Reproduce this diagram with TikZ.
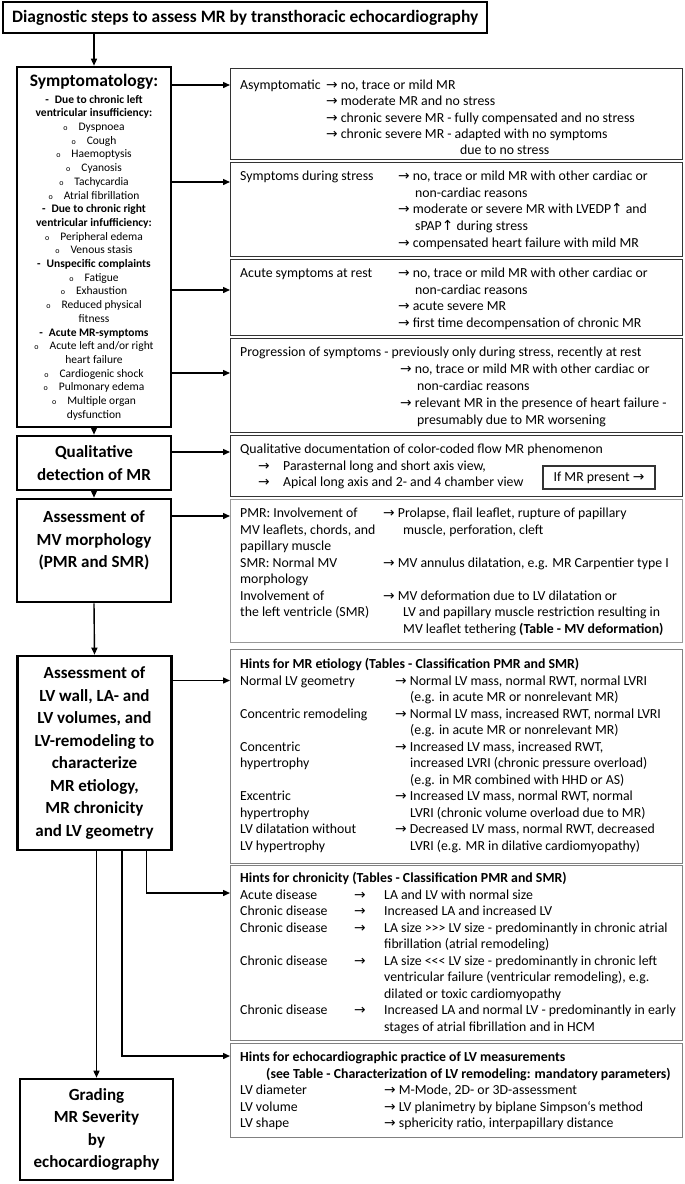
\documentclass[tikz,border=0pt]{standalone}
\usepackage{fontspec}
\setmainfont{Carlito}
\newfontfamily\arrowfont{DejaVu Sans}
\usepackage{tikz}
\usetikzlibrary{arrows.meta}
\newcommand\ra{{\arrowfont\char"2192}}
\newcommand\up{{\arrowfont\char"2191}}
\newcommand\bul{{\fontsize{8}{8}\selectfont o}\hspace{11pt}}
\newcommand\gt{>\kern0pt>\kern0pt>}
\newcommand\lt{<\kern0pt<\kern0pt<}

\begin{document}
\begin{tikzpicture}[x=1pt, y=-1pt,
	tbox/.style={rectangle, draw, line width=2.4pt, minimum height=31pt, inner xsep=9pt,
		font=\fontsize{17.4}{20}\selectfont\bfseries},
	lbox/.style={rectangle, draw, line width=2.6pt, align=center, inner sep=0pt,
		minimum width=154pt, font=\fontsize{17}{22.5}\selectfont\bfseries},
	rbox/.style={rectangle, draw=black!80, line width=1.2pt, anchor=north west,
		inner sep=0pt, minimum width=452pt},
	gbox/.style={rbox, draw=black!50},
	txt/.style={anchor=base west, inner sep=0pt, font=\fontsize{13.8}{16.5}\selectfont},
	btxt/.style={txt, font=\fontsize{13.8}{16.5}\selectfont\bfseries},
	arr/.style={-{Triangle[length=7pt,width=6pt]}, line width=1.4pt}]
	\useasboundingbox (0,0) rectangle (685,1184);

	% left column
	\node[tbox, anchor=west] (title) at (2,17.5) {Diagnostic steps to assess MR by transthoracic echocardiography};
	\node[lbox, minimum height=360pt, font=\fontsize{11.5}{13.7}\selectfont] (symp) at (94,247) {{\fontsize{17.5}{20}\selectfont\bfseries Symptomatology:}\\[3.3pt]
		\textbf{-\hspace{6pt}Due to chronic left}\\
		\textbf{ventricular insufficiency:}\\
		\bul Dyspnoea\\
		\bul Cough\\
		\bul Haemoptysis\\
		\bul Cyanosis\\
		\bul Tachycardia\\
		\bul Atrial fibrillation\\
		\textbf{-\hspace{6pt}Due to chronic right}\\
		\textbf{ventricular infufficiency:}\\
		\bul Peripheral edema\\
		\bul Venous stasis\\
		\textbf{-\hspace{6pt}Unspecific complaints}\\
		\bul Fatigue\\
		\bul Exhaustion\\
		\bul Reduced physical\\
		fitness\\
		\textbf{-\hspace{6pt}Acute MR-symptoms}\\
		\bul Acute left and/or right\\
		heart failure\\
		\bul Cardiogenic shock\\
		\bul Pulmonary edema\\
		\bul Multiple organ\\
		dysfunction};
	\node[lbox, minimum height=54pt] (qual) at (94,463) {Qualitative\\detection of MR};
	\node[lbox, minimum height=103pt] (mvm) at (94,550.5) {Assessment of\\MV morphology\\(PMR and SMR)\\\mbox{}};
	\node[lbox, minimum height=194pt] (lvg) at (94.5,753) {Assessment of\\LV wall, LA- and\\LV volumes, and\\LV-remodeling to\\characterize\\MR etiology,\\MR chronicity\\and LV geometry};
	\node[lbox, minimum width=153pt, minimum height=101pt] (grad) at (96.5,1129.5) {Grading\\MR Severity\\by\\echocardiography};

	% right column: boxes
	\node[rbox, minimum height=91pt] (asym) at (230,68) {};
	\node[rbox, minimum height=94pt] (stress) at (230,162) {};
	\node[rbox, minimum height=76pt] (rest) at (230,259) {};
	\node[rbox, minimum height=94pt] (prog) at (230,338) {};
	\node[rbox, minimum height=61pt] (qdoc) at (230,435) {};
	\node[gbox, draw=black!40, minimum height=143pt] (morph) at (230,499) {};
	\node[gbox, minimum height=214pt] (etio) at (230,649) {};
	\node[gbox, minimum height=175pt] (chron) at (230,865) {};
	\node[gbox, minimum height=94pt] (pract) at (230,1043) {};

	% asymptomatic
	\node[txt] (asymL) at (240,89.5) {Asymptomatic};
	\node[txt] (asymR1) at (326,89.5) {\ra{} no, trace or mild MR};
	\node[txt] (asymR2) at (326,105.8) {\ra{} moderate MR and no stress};
	\node[txt] (asymR3) at (326,122.2) {\ra{} chronic severe MR - fully compensated and no stress};
	\node[txt] (asymR4) at (326,138.5) {\ra{} chronic severe MR - adapted with no symptoms};
	\node[txt] (asymR5) at (460,154.8) {due to no stress};
	% stress
	\node[txt] (stressL) at (240,180.5) {Symptoms during stress};
	\node[txt] (stressR1) at (398,180.5) {\ra{} no, trace or mild MR with other cardiac or};
	\node[txt] (stressR2) at (415,197.2) {non-cardiac reasons};
	\node[txt] (stressR3) at (398,213.8) {\ra{} moderate or severe MR with LVEDP\up{} and};
	\node[txt] (stressR4) at (415,230.5) {sPAP\up{} during stress};
	\node[txt] (stressR5) at (398,247.2) {\ra{} compensated heart failure with mild MR};
	% rest
	\node[txt] (restL) at (240,277.5) {Acute symptoms at rest};
	\node[txt] (restR1) at (398,277.5) {\ra{} no, trace or mild MR with other cardiac or};
	\node[txt] (restR2) at (415,294) {non-cardiac reasons};
	\node[txt] (restR3) at (398,310.5) {\ra{} acute severe MR};
	\node[txt] (restR4) at (398,327) {\ra{} first time decompensation of chronic MR};
	% progression
	\node[txt] (progL) at (240,356.5) {Progression of symptoms - previously only during stress, recently at rest};
	\node[txt] (progR1) at (400,373.5) {\ra{} no, trace or mild MR with other cardiac or};
	\node[txt] (progR2) at (417,390.5) {non-cardiac reasons};
	\node[txt] (progR3) at (400,407.5) {\ra{} relevant MR in the presence of heart failure -};
	\node[txt] (progR4) at (417,424.5) {presumably due to MR worsening};
	% qualitative documentation
	\node[txt] (qdocL) at (240,453.5) {Qualitative documentation of color-coded flow MR phenomenon};
	\node[txt] (qdocA1) at (258,470.5) {\ra};
	\node[txt] (qdocR1) at (283,470.5) {Parasternal long and short axis view,};
	\node[txt] (qdocA2) at (258,486.5) {\ra};
	\node[txt] (qdocR2) at (283,486.5) {Apical long axis and 2- and 4 chamber view};
	\node[rectangle, draw=black!80, line width=1.2pt, minimum width=112pt, minimum height=23pt,
		inner sep=0pt, font=\fontsize{13.8}{16.5}\selectfont] (present) at (599,477.5) {If MR present \ra};
	% morphology
	\node[txt] (morphL1) at (240,517.5) {PMR: Involvement of};
	\node[txt] (morphR1) at (383,517.5) {\ra{} Prolapse, flail leaflet, rupture of papillary};
	\node[txt] (morphL2) at (240,534) {MV leaflets, chords, and};
	\node[txt] (morphR2) at (403,534) {muscle, perforation, cleft};
	\node[txt] (morphL3) at (240,550.5) {papillary muscle};
	\node[txt] (morphL4) at (240,567) {SMR: Normal MV};
	\node[txt] (morphR4) at (383,567) {\ra{} MV annulus dilatation, e.g. MR Carpentier type I};
	\node[txt] (morphL5) at (240,583.5) {morphology};
	\node[txt] (morphL6) at (240,600) {Involvement of};
	\node[txt] (morphR6) at (383,600) {\ra{} MV deformation due to LV dilatation or};
	\node[txt] (morphL7) at (240,616.5) {the left ventricle (SMR)};
	\node[txt] (morphR7) at (403,616.5) {LV and papillary muscle restriction resulting in};
	\node[txt] (morphR8) at (403,633) {MV leaflet tethering \textbf{(Table - MV deformation)}};
	% etiology
	\node[btxt] (etioH) at (240,668.5) {Hints for MR etiology (Tables - Classification PMR and SMR)};
	\node[txt] (etioL1) at (240,685) {Normal LV geometry};
	\node[txt] (etioR1) at (395,685) {\ra{} Normal LV mass, normal RWT, normal LVRI};
	\node[txt] (etioR2) at (410,701.5) {(e.g. in acute MR or nonrelevant MR)};
	\node[txt] (etioL3) at (240,718) {Concentric remodeling};
	\node[txt] (etioR3) at (395,718) {\ra{} Normal LV mass, increased RWT, normal LVRI};
	\node[txt] (etioR4) at (410,734.5) {(e.g. in acute MR or nonrelevant MR)};
	\node[txt] (etioL5) at (240,751) {Concentric};
	\node[txt] (etioR5) at (395,751) {\ra{} Increased LV mass, increased RWT,};
	\node[txt] (etioL6) at (240,767.5) {hypertrophy};
	\node[txt] (etioR6) at (410,767.5) {increased LVRI (chronic pressure overload)};
	\node[txt] (etioR7) at (410,784) {(e.g. in MR combined with HHD or AS)};
	\node[txt] (etioL8) at (240,800.5) {Excentric};
	\node[txt] (etioR8) at (395,800.5) {\ra{} Increased LV mass, normal RWT, normal};
	\node[txt] (etioL9) at (240,817) {hypertrophy};
	\node[txt] (etioR9) at (410,817) {LVRI (chronic volume overload due to MR)};
	\node[txt] (etioL10) at (240,833.5) {LV dilatation without};
	\node[txt] (etioR10) at (395,833.5) {\ra{} Decreased LV mass, normal RWT, decreased};
	\node[txt] (etioL11) at (240,850) {LV hypertrophy};
	\node[txt] (etioR11) at (410,850) {LVRI (e.g. MR in dilative cardiomyopathy)};
	% chronicity
	\node[btxt] (chronH) at (240,882.5) {Hints for chronicity (Tables - Classification PMR and SMR)};
	\node[txt] (chronL1) at (240,899) {Acute disease};
	\node[txt] (chronA1) at (354,899) {\ra};
	\node[txt] (chronR1) at (384,899) {LA and LV with normal size};
	\node[txt] (chronL2) at (240,915.5) {Chronic disease};
	\node[txt] (chronA2) at (354,915.5) {\ra};
	\node[txt] (chronR2) at (384,915.5) {Increased LA and increased LV};
	\node[txt] (chronL3) at (240,932) {Chronic disease};
	\node[txt] (chronA3) at (354,932) {\ra};
	\node[txt] (chronR3) at (384,932) {LA size \gt{} LV size - predominantly in chronic atrial};
	\node[txt] (chronR4) at (384,948.5) {fibrillation (atrial remodeling)};
	\node[txt] (chronL5) at (240,965) {Chronic disease};
	\node[txt] (chronA5) at (354,965) {\ra};
	\node[txt] (chronR5) at (384,965) {LA size \lt{} LV size - predominantly in chronic left};
	\node[txt] (chronR6) at (384,981.5) {ventricular failure (ventricular remodeling), e.g.};
	\node[txt] (chronR7) at (384,998) {dilated or toxic cardiomyopathy};
	\node[txt] (chronL8) at (240,1014.5) {Chronic disease};
	\node[txt] (chronA8) at (354,1014.5) {\ra};
	\node[txt] (chronR8) at (384,1014.5) {Increased LA and normal LV - predominantly in early};
	\node[txt] (chronR9) at (384,1031) {stages of atrial fibrillation and in HCM};
	% echo practice
	\node[btxt] (practH1) at (240,1061.5) {Hints for echocardiographic practice of LV measurements};
	\node[btxt] (practH2) at (266,1078) {(see Table - Characterization of LV remodeling: mandatory parameters)};
	\node[txt] (practL1) at (240,1094.5) {LV diameter};
	\node[txt] (practR1) at (384,1094.5) {\ra{} M-Mode, 2D- or 3D-assessment};
	\node[txt] (practL2) at (240,1111) {LV volume};
	\node[txt] (practR2) at (384,1111) {\ra{} LV planimetry by biplane Simpson`s method};
	\node[txt] (practL3) at (240,1127.5) {LV shape};
	\node[txt] (practR3) at (384,1127.5) {\ra{} sphericity ratio, interpapillary distance};

	% arrow entry points
	\coordinate (in1) at (230,85);
	\coordinate (in2) at (230,182);
	\coordinate (in3) at (230,290);
	\coordinate (in4) at (230,373);
	\coordinate (in5) at (230,452);
	\coordinate (in6) at (230,516);
	\coordinate (in7) at (230,680.5);
	\coordinate (in8) at (230,893);
	\coordinate (in9) at (230,1056);

	\draw[arr] (title.south -| symp.north) -- (symp.north);
	\draw[arr] (symp.south -| qual.north) -- (qual.north);
	\draw[arr] (qual.south) -- (mvm.north);
	\draw[arr] (mvm.south) -- (lvg.north);
	\draw[arr] (lvg.south -| grad.north) -- (grad.north);
	\draw[arr] ([xshift=52pt]lvg.south) |- (in8);
	\draw[arr] ([xshift=27.5pt]lvg.south) |- (in9);
	\draw[arr] (symp.east |- in1) -- (in1);
	\draw[arr] (symp.east |- in2) -- (in2);
	\draw[arr] (symp.east |- in3) -- (in3);
	\draw[arr] (symp.east |- in4) -- (in4);
	\draw[arr] (qual.east |- in5) -- (in5);
	\draw[arr] (mvm.east |- in6) -- (in6);
	\draw[arr] (lvg.east |- in7) -- (in7);
\end{tikzpicture}
\end{document}
